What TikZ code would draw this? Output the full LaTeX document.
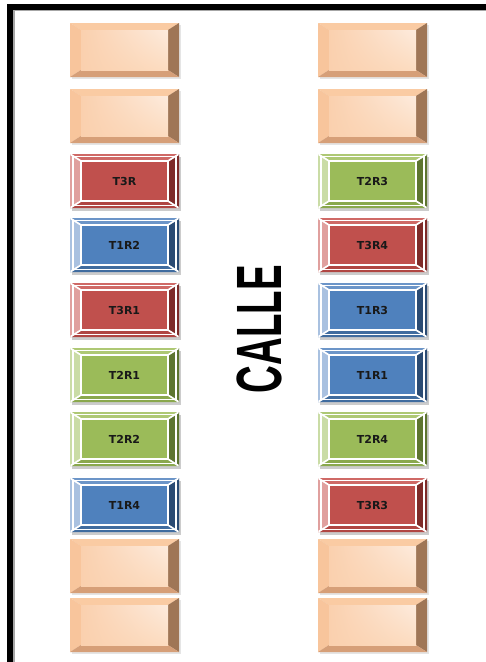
\documentclass[tikz,border=0pt]{standalone}
\usepackage{fontspec}
\usetikzlibrary{shadings}
\setmainfont{DejaVu Sans}
\newfontfamily\callefont{Liberation Sans}
\begin{document}
\begin{tikzpicture}[x=1pt,y=-1pt,
  lbl/.style={font=\fontsize{11}{12}\selectfont\bfseries, text=black!90, inner sep=0pt},
  framebar/.style={fill=black, draw=none},
  frameshadow/.style={fill=black!35, draw=none},
  bevline/.style={draw=white, line width=1.7pt, line join=miter}]
\definecolor{redM}{HTML}{C0504D}\definecolor{redT}{HTML}{CF6966}\definecolor{redL}{HTML}{E0A09E}\definecolor{redR}{HTML}{7E2B29}\definecolor{redB}{HTML}{B04643}
\definecolor{bluM}{HTML}{4F81BD}\definecolor{bluT}{HTML}{6C95C8}\definecolor{bluL}{HTML}{A9C1E0}\definecolor{bluR}{HTML}{2B4B73}\definecolor{bluB}{HTML}{406C9F}
\definecolor{greM}{HTML}{9BBB59}\definecolor{greT}{HTML}{AEC874}\definecolor{greL}{HTML}{CADCA6}\definecolor{greR}{HTML}{5D7530}\definecolor{greB}{HTML}{8AA84D}
\definecolor{peaM}{HTML}{FCDCC0}\definecolor{peaN}{HTML}{FDEBDD}\definecolor{peaT}{HTML}{FACBA3}\definecolor{peaL}{HTML}{F8C59C}\definecolor{peaR}{HTML}{9F7656}\definecolor{peaB}{HTML}{D69F78}
\definecolor{peaC}{HTML}{FAD0AE}
\useasboundingbox (0,0) rectangle (486,662);
\fill[white] (0,0) rectangle (486,662);
% frame
\fill[frameshadow] (13,10) rectangle (15,662);
\fill[frameshadow] (13,9) rectangle (486,11);
\fill[framebar] (7,4) rectangle (13,662);
\fill[framebar] (7,4) rectangle (486,9.5);
% boxes: #1 x, #2 y, #3 colour prefix, #4 unused, #5 name, #6 text
\newcommand\bevbox[6]{%
  \fill[black!20] (#1+2,#2+2.5) rectangle (#1+111,#2+56.5);
  \fill[#3T] (#1,#2) -- (#1+109,#2) -- (#1+98,#2+7) -- (#1+11,#2+7) -- cycle;
  \fill[#3L] (#1,#2) -- (#1+11,#2+7) -- (#1+11,#2+47) -- (#1,#2+54) -- cycle;
  \fill[#3R] (#1+109,#2) -- (#1+109,#2+54) -- (#1+98,#2+47) -- (#1+98,#2+7) -- cycle;
  \fill[#3B] (#1,#2+54) -- (#1+11,#2+47) -- (#1+98,#2+47) -- (#1+109,#2+54) -- cycle;
  \fill[#3M] (#1+11,#2+7) rectangle (#1+98,#2+47);
  \draw[white, line width=1.2pt] (#1+3,#2+2.5) rectangle (#1+106,#2+51.5);
  \draw[bevline] (#1+0.5,#2+0.3) -- (#1+11,#2+7) (#1+108.5,#2+0.3) -- (#1+98,#2+7)
    (#1+0.5,#2+53.7) -- (#1+11,#2+47) (#1+108.5,#2+53.7) -- (#1+98,#2+47);
  \draw[bevline] (#1+11,#2+7) rectangle (#1+98,#2+47);
  \node[lbl] (#5) at (#1+54.5,#2+27) {#6};}
\newcommand\peabox[3]{%
  \fill[black!10] (#1+1.5,#2+1.5) rectangle (#1+110.5,#2+55.5);
  \fill[peaT] (#1,#2) -- (#1+109,#2) -- (#1+98,#2+7) -- (#1+11,#2+7) -- cycle;
  \fill[peaL] (#1,#2) -- (#1+11,#2+7) -- (#1+11,#2+47) -- (#1,#2+54) -- cycle;
  \fill[peaR] (#1+109,#2) -- (#1+109,#2+54) -- (#1+98,#2+47) -- (#1+98,#2+7) -- cycle;
  \fill[peaB] (#1,#2+54) -- (#1+11,#2+47) -- (#1+98,#2+47) -- (#1+109,#2+54) -- cycle;
  \shade[upper left=peaC, lower right=peaM, upper right=peaN, lower left=peaC] (#1+11,#2+7) rectangle (#1+98,#2+47);
  \node[inner sep=0pt] (#3) at (#1+54.5,#2+27) {};}
% left column
\peabox{70}{23}{L1}
\peabox{70}{89}{L2}
\bevbox{70}{154}{red}{}{L3}{T3R}
\bevbox{70}{218}{blu}{}{L4}{T1R2}
\bevbox{70}{283}{red}{}{L5}{T3R1}
\bevbox{70}{348}{gre}{}{L6}{T2R1}
\bevbox{70}{412}{gre}{}{L7}{T2R2}
\bevbox{70}{478}{blu}{}{L8}{T1R4}
\peabox{70}{539}{L9}
\peabox{70}{598}{L10}
% right column
\peabox{318}{23}{R1}
\peabox{318}{89}{R2}
\bevbox{318}{154}{gre}{}{R3}{T2R3}
\bevbox{318}{218}{red}{}{R4}{T3R4}
\bevbox{318}{283}{blu}{}{R5}{T1R3}
\bevbox{318}{348}{blu}{}{R6}{T1R1}
\bevbox{318}{412}{gre}{}{R7}{T2R4}
\bevbox{318}{478}{red}{}{R8}{T3R3}
\peabox{318}{539}{R9}
\peabox{318}{598}{R10}
% street label
\node[rotate=90, inner sep=0pt] (calle) at (259,329) {\scalebox{0.6}[1]{\callefont\fontsize{64}{64}\selectfont\bfseries CALLE}};
\end{tikzpicture}
\end{document}
